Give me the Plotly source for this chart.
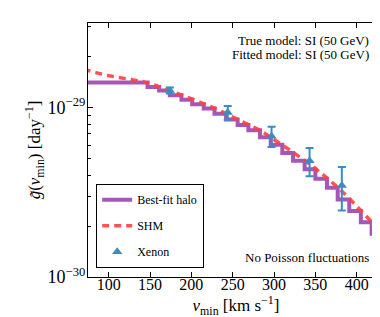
import plotly.graph_objects as go

# ---------------- data ----------------
# Best-fit halo: step function (bin edges in km/s, levels in units of 1e-29 /day)
halo_edges = [70, 147, 161, 174, 188, 201, 215, 228, 242, 256, 269, 283, 296,
              310, 323, 337, 350, 364, 377, 391, 405, 418, 432, 450]
halo_levels = [1.409, 1.324, 1.262, 1.182, 1.114, 1.049, 0.989, 0.921, 0.851,
               0.790, 0.735, 0.668, 0.604, 0.540, 0.486, 0.433, 0.381, 0.336,
               0.2865, 0.2454, 0.2102, 0.1803, 0.128, 0.128]

# SHM curve
shm_vmin = [70, 75, 99, 144, 174, 232, 244, 284, 297, 343, 382, 428, 440]
shm_vals = [1.69, 1.66, 1.55, 1.41, 1.26, 0.973, 0.908, 0.730, 0.663, 0.464,
            0.321, 0.188, 0.165]

# Xenon data points
xe_vmin = [174, 244, 297, 343, 382]
xe_vals = [1.263, 0.935, 0.678, 0.486, 0.3465]
xe_err = [0.052, 0.087, 0.093, 0.092, 0.0995]

scale = 1e-29

x_ticks = [100, 150, 200, 250, 300, 350, 400]
y_major = [1e-30, 1e-29]
y_major_text = ["10<sup>−30</sup>", "10<sup>−29</sup>"]
y_minor = [k * 1e-30 for k in range(2, 10)] + [k * 1e-29 for k in range(2, 4)]

# ---------------- figure ----------------
FONT = "Liberation Serif"
purple = "#9c45b0"
red = "#ff4040"
blue = "#3a8dc4"

fig = go.Figure()

fig.add_trace(go.Scatter(
    x=halo_edges, y=[v * scale for v in halo_levels],
    mode="lines", line=dict(color=purple, width=4, shape="hv"),
    opacity=0.9, name="Best-fit halo", legendgroup="a"))

fig.add_trace(go.Scatter(
    x=shm_vmin, y=[v * scale for v in shm_vals],
    mode="lines", line=dict(color=red, width=3.5, dash="7px,5px", shape="spline"),
    opacity=0.9, name="SHM", legendgroup="b"))

fig.add_trace(go.Scatter(
    x=xe_vmin, y=[v * scale for v in xe_vals],
    mode="markers",
    marker=dict(symbol="triangle-up", size=9, color=blue),
    error_y=dict(type="data", array=[e * scale for e in xe_err],
                 color=blue, thickness=2, width=4),
    name="Xenon", legendgroup="c"))

axis_common = dict(
    showline=True, linecolor="black", linewidth=1.2, mirror="allticks",
    ticks="inside", ticklen=5, tickcolor="black", tickwidth=1,
    showgrid=False, zeroline=False,
)

fig.update_xaxes(
    range=[75, 433], tickvals=x_ticks, ticklabelstandoff=-7,
    tickfont=dict(family=FONT, size=16, color="black"),
    title=dict(text="<i>v</i><sub>min</sub> [km s<sup>−1</sup>]",
               font=dict(family=FONT, size=17, color="black"), standoff=0),
    **axis_common)

fig.update_yaxes(
    type="log", range=[-30, -28.5], tickvals=y_major, ticktext=y_major_text,
    ticklabelstandoff=-2,
    tickfont=dict(family=FONT, size=18, color="black"),
    minor=dict(tickvals=y_minor, ticks="inside", ticklen=3, tickcolor="black"),
    title=dict(text="<i>g̃</i>(<i>v</i><sub>min</sub>) [day<sup>−1</sup>]",
               font=dict(family=FONT, size=17, color="black"), standoff=2),
    **axis_common)

fig.add_annotation(xref="paper", yref="paper", x=0.955, y=0.93,
                   xanchor="right", yanchor="middle", showarrow=False,
                   text="True model: SI (50 GeV)",
                   font=dict(family=FONT, size=13, color="black"))
fig.add_annotation(xref="paper", yref="paper", x=0.955, y=0.875,
                   xanchor="right", yanchor="middle", showarrow=False,
                   text="Fitted model: SI (50 GeV)",
                   font=dict(family=FONT, size=13, color="black"))
fig.add_annotation(xref="paper", yref="paper", x=0.955, y=0.075,
                   xanchor="right", yanchor="middle", showarrow=False,
                   text="No Poisson fluctuations",
                   font=dict(family=FONT, size=13, color="black"))

fig.update_layout(
    width=380, height=317,
    margin=dict(l=80, r=4, t=15, b=48),
    paper_bgcolor="white", plot_bgcolor="white",
    showlegend=True,
    legend=dict(x=0.027, y=0.035, xanchor="left", yanchor="bottom",
                bordercolor="black", borderwidth=1.2, bgcolor="white",
                font=dict(family=FONT, size=12, color="black"),
                tracegroupgap=7, itemwidth=30),
)

fig.write_html("out.html")
